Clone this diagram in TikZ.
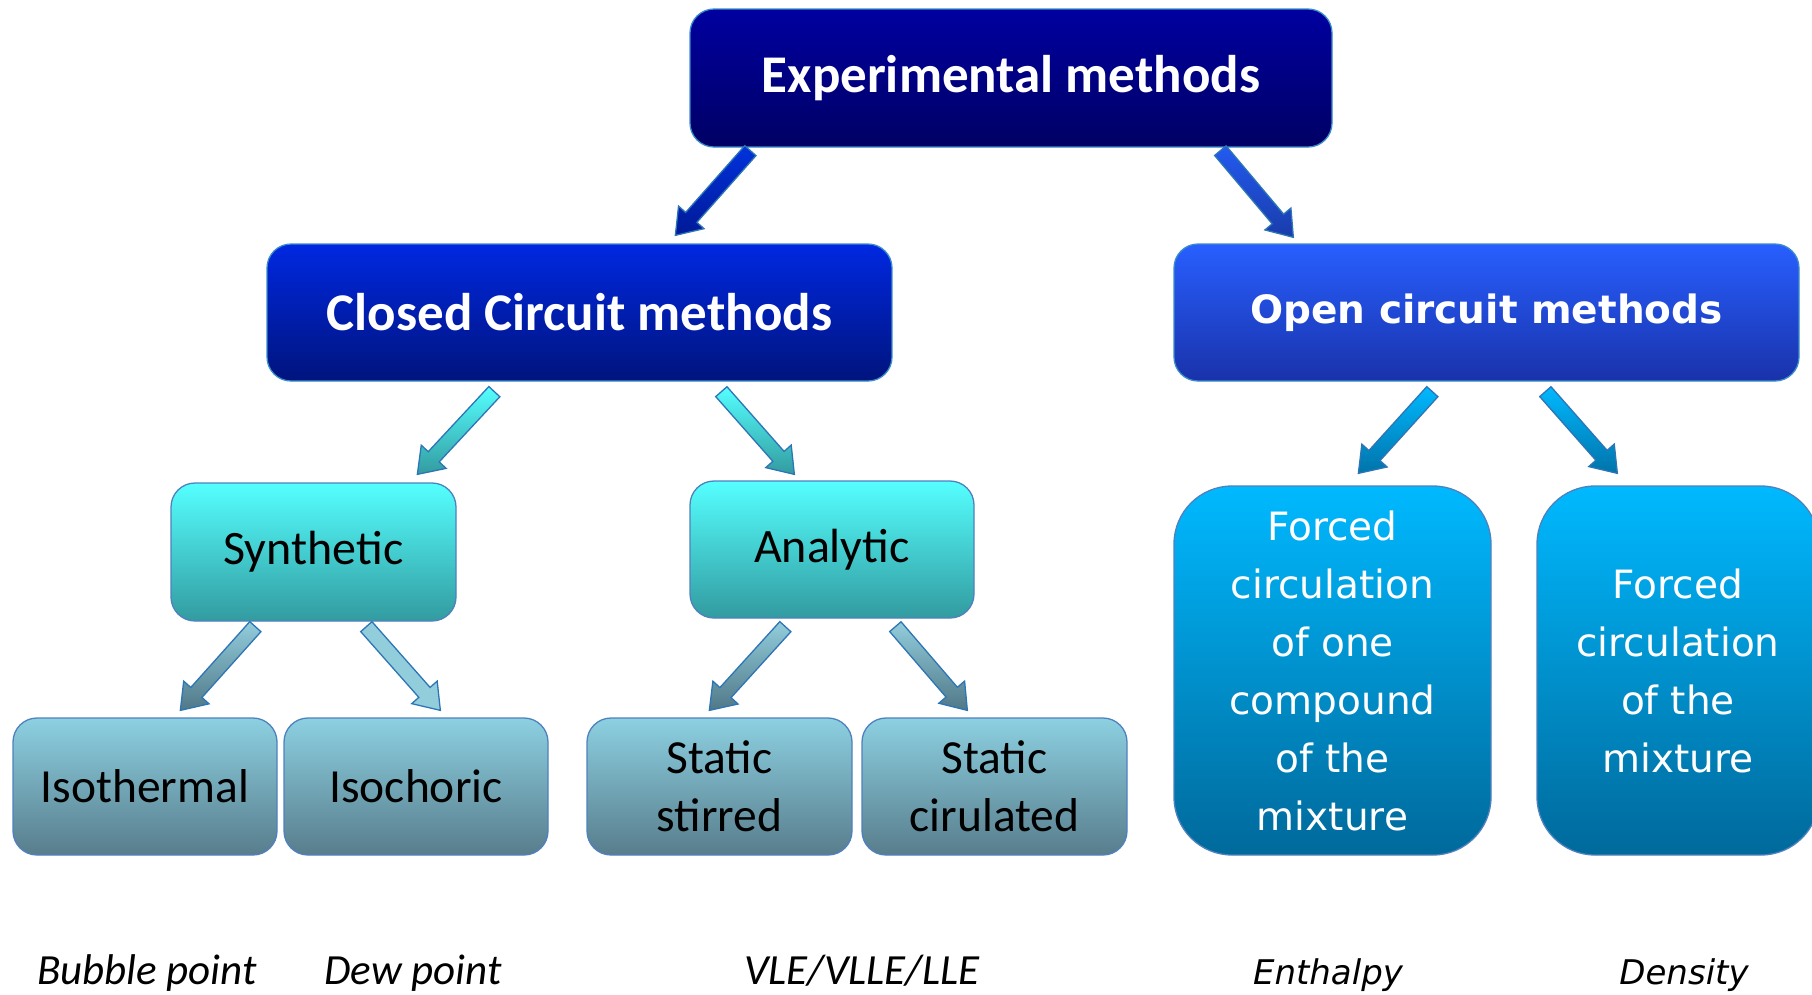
\documentclass[tikz,border=0pt]{standalone}
\usepackage{fontspec}
\setmainfont{Carlito}
\newfontfamily\verd{DejaVu Sans}
\usetikzlibrary{calc}
\definecolor{edgeA}{HTML}{3A8CCB}
\definecolor{edgeB}{HTML}{4F81BD}
\definecolor{arrEdge}{HTML}{2E75B6}
\tikzset{
  box/.style={rounded corners=24pt, draw=edgeB, line width=1.3pt, align=center, inner sep=0pt},
  topbox/.style={box, draw=edgeA, top color={rgb,255:red,0;green,0;blue,160}, bottom color={rgb,255:red,0;green,0;blue,100}, text=white},
  closedbox/.style={box, draw=edgeA, top color={rgb,255:red,0;green,40;blue,225}, bottom color={rgb,255:red,0;green,20;blue,125}, text=white},
  openbox/.style={box, draw=edgeA, top color={rgb,255:red,40;green,95;blue,255}, bottom color={rgb,255:red,25;green,50;blue,170}, text=white},
  cyanbox/.style={box, top color={rgb,255:red,85;green,255;blue,255}, bottom color={rgb,255:red,50;green,155;blue,160}, text=black},
  greybox/.style={box, top color={rgb,255:red,140;green,208;blue,225}, bottom color={rgb,255:red,88;green,125;blue,140}, text=black},
  forcedbox/.style={box, rounded corners=58pt, top color={rgb,255:red,0;green,185;blue,255}, bottom color={rgb,255:red,0;green,105;blue,155}, text=white},
  lbl/.style={anchor=base, inner sep=0pt, font=\fontsize{43}{50}\selectfont\itshape},
  lblv/.style={anchor=base, inner sep=0pt, font=\fontsize{34}{40}\verd\itshape},
  arrline/.style={draw=arrEdge, line width=1.3pt, line join=miter},
}
\newcommand{\barrow}[3]{%
  \coordinate (hh) at ($(#2)!24pt!(#1)$);
  \path[arrline, #3] ($(#1)!7.5pt!90:(#2)$) -- ($(hh)!7.5pt!90:(#2)$) -- ($(hh)!17pt!90:(#2)$) -- (#2)
     -- ($(hh)!17pt!-90:(#2)$) -- ($(hh)!7.5pt!-90:(#2)$) -- ($(#1)!7.5pt!-90:(#2)$) -- cycle;}
\begin{document}
\begin{tikzpicture}[x=1pt,y=-1pt]
\useasboundingbox (0,0) rectangle (1812,994);
% nodes
\node[topbox, minimum width=642pt, minimum height=138pt, font=\fontsize{53}{60}\selectfont\bfseries] (top) at (1011,78) {Experimental methods};
\node[closedbox, minimum width=625pt, minimum height=137pt, font=\fontsize{53}{60}\selectfont\bfseries] (closed) at (579.5,312.5) {Closed Circuit methods};
\node[openbox, minimum width=625pt, minimum height=137pt, font=\fontsize{39}{46}\verd\bfseries] (open) at (1486.5,312.5) {Open circuit methods};
\node[cyanbox, minimum width=285pt, minimum height=138pt, font=\fontsize{48}{58}\selectfont] (syn) at (313.5,552) {Synthetic};
\node[cyanbox, minimum width=284pt, minimum height=137pt, font=\fontsize{48}{58}\selectfont] (ana) at (832,549.5) {Analytic};
\node[greybox, minimum width=264pt, minimum height=137pt, font=\fontsize{47.5}{58}\selectfont] (iso) at (145,786.5) {Isothermal};
\node[greybox, minimum width=264pt, minimum height=137pt, font=\fontsize{47.5}{58}\selectfont] (isc) at (416,786.5) {Isochoric};
\node[greybox, minimum width=265pt, minimum height=137pt, font=\fontsize{47.5}{58}\selectfont] (sst) at (719.5,786.5) {Static\\stirred};
\node[greybox, minimum width=265pt, minimum height=137pt, font=\fontsize{47.5}{58}\selectfont] (sci) at (994.5,786.5) {Static\\cirulated};
\node[forcedbox, minimum width=317pt, minimum height=369pt, font=\fontsize{39}{58}\verd] (f1) at (1332.5,670.5) {Forced\\circulation\\of one\\compound\\of the\\mixture};
\node[forcedbox, minimum width=282pt, minimum height=369pt, font=\fontsize{39}{58}\verd] (f2) at (1678,670.5) {Forced\\circulation\\of the\\mixture};
% bottom labels
\node[lbl] (l1) at (147,984) {Bubble point};
\node[lbl] (l2) at (413,984) {Dew point};
\node[lbl] (l3) at (862,984) {VLE/VLLE/LLE};
\node[lblv] (l4) at (1328,984) {Enthalpy};
\node[lblv] (l5) at (1684,984) {Density};
% arrow end points
\coordinate (a1s) at ($(top.south west)+(61,3)$);
\coordinate (a1e) at ($(closed.north west)+(409,-8)$);
\coordinate (a2s) at ($(top.south west)+(531,3)$);
\coordinate (a2e) at ($(open.north west)+(120,-6)$);
\coordinate (a3s) at ($(closed.south west)+(228,10)$);
\coordinate (a3e) at ($(syn.north west)+(247,-8)$);
\coordinate (a4s) at ($(closed.south west)+(455,10)$);
\coordinate (a4e) at ($(ana.north west)+(105,-6)$);
\coordinate (a5s) at ($(open.south west)+(259,10)$);
\coordinate (a5e) at ($(f1.north west)+(185,-12)$);
\coordinate (a6s) at ($(open.south west)+(372,10)$);
\coordinate (a6e) at ($(f2.north west)+(81,-12)$);
\coordinate (a7s) at ($(syn.south west)+(85,5)$);
\coordinate (a7e) at ($(iso.north west)+(168,-7)$);
\coordinate (a8s) at ($(syn.south west)+(196,5)$);
\coordinate (a8e) at ($(isc.north west)+(157,-7)$);
\coordinate (a9s) at ($(ana.south west)+(96,8)$);
\coordinate (a9e) at ($(sst.north west)+(123,-7)$);
\coordinate (a10s) at ($(ana.south west)+(206,8)$);
\coordinate (a10e) at ($(sci.north west)+(106,-7)$);
% arrows
\barrow{a1s}{a1e}{top color={rgb,255:red,0;green,50;blue,220}, bottom color={rgb,255:red,0;green,25;blue,150}}
\barrow{a2s}{a2e}{top color={rgb,255:red,35;green,90;blue,240}, bottom color={rgb,255:red,25;green,60;blue,170}}
\barrow{a3s}{a3e}{top color={rgb,255:red,85;green,255;blue,255}, bottom color={rgb,255:red,50;green,155;blue,160}}
\barrow{a4s}{a4e}{top color={rgb,255:red,85;green,255;blue,255}, bottom color={rgb,255:red,50;green,155;blue,160}}
\barrow{a5s}{a5e}{top color={rgb,255:red,0;green,185;blue,255}, bottom color={rgb,255:red,0;green,115;blue,170}}
\barrow{a6s}{a6e}{top color={rgb,255:red,0;green,185;blue,255}, bottom color={rgb,255:red,0;green,115;blue,170}}
\barrow{a7s}{a7e}{top color={rgb,255:red,146;green,205;blue,220}, bottom color={rgb,255:red,80;green,120;blue,135}}
\barrow{a8s}{a8e}{fill={rgb,255:red,146;green,205;blue,220}}
\barrow{a9s}{a9e}{top color={rgb,255:red,146;green,205;blue,220}, bottom color={rgb,255:red,80;green,120;blue,135}}
\barrow{a10s}{a10e}{top color={rgb,255:red,146;green,205;blue,220}, bottom color={rgb,255:red,80;green,120;blue,135}}
\end{tikzpicture}
\end{document}
